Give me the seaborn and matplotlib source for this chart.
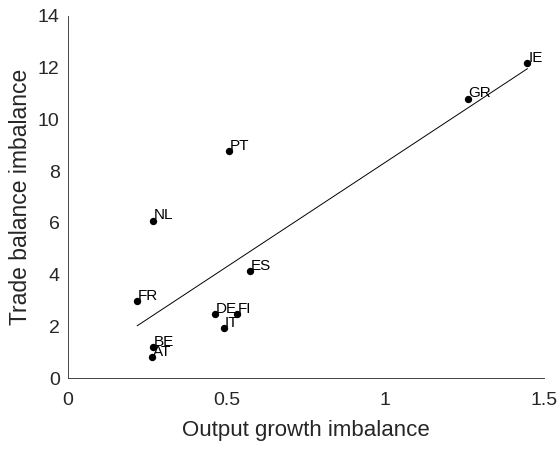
import matplotlib
matplotlib.use("Agg")
import matplotlib.pyplot as plt
import seaborn as sns
import pandas as pd

countries = ["IE", "GR", "PT", "NL", "ES", "FR", "DE", "FI", "IT", "BE", "AT"]
output_growth = [1.448, 1.259, 0.508, 0.268, 0.574, 0.218, 0.464, 0.533, 0.492, 0.268, 0.265]
trade_balance = [12.17, 10.80, 8.76, 6.09, 4.12, 2.96, 2.46, 2.46, 1.92, 1.19, 0.80]

df = pd.DataFrame({"x": output_growth, "y": trade_balance, "c": countries})

sns.set_style("white")
plt.rcParams["font.family"] = ["Liberation Sans", "DejaVu Sans"]

fig = plt.figure(figsize=(5.6, 4.49), dpi=100)
ax = fig.add_axes([0.1214, 0.1581, 0.85, 0.8063])

sns.regplot(data=df, x="x", y="y", ci=None, scatter=False, truncate=True,
            line_kws={"color": "black", "linewidth": 0.7}, ax=ax)
sns.scatterplot(data=df, x="x", y="y", color="black", s=28, edgecolor="black",
                linewidth=0, ax=ax, zorder=3)

for xi, yi, lab in zip(df["x"], df["y"], df["c"]):
    ax.annotate(lab, (xi, yi), xytext=(0.5, -1), textcoords="offset points",
                ha="left", va="bottom", fontsize=11, color="black")

ax.set_xlim(0, 1.5)
ax.set_ylim(0, 14)
ax.set_xticks([0, 0.5, 1, 1.5])
ax.set_xticklabels(["0", "0.5", "1", "1.5"])
ax.set_yticks(range(0, 15, 2))
ax.set_xlabel("Output growth imbalance", fontsize=16, color="#262626", labelpad=8)
ax.set_ylabel("Trade balance imbalance", fontsize=16.5, color="#262626", labelpad=4)

for side in ["top", "right"]:
    ax.spines[side].set_visible(False)
for side in ["left", "bottom"]:
    ax.spines[side].set_color("#262626")
    ax.spines[side].set_linewidth(0.6)
ax.tick_params(direction="in", length=4, width=0.6, colors="#262626",
               labelsize=14)
ax.tick_params(axis="x", pad=10)
ax.tick_params(axis="y", pad=6)

fig.savefig("out.png", dpi=100)
